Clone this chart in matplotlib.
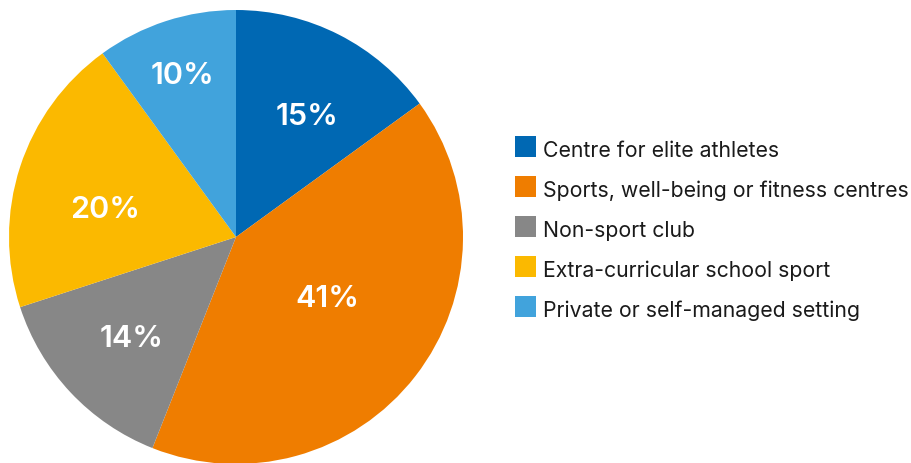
import numpy as np
import matplotlib.pyplot as plt
from matplotlib.patches import Rectangle

plt.rcParams['font.family'] = ['Inter', 'DejaVu Sans']

categories = [
    "Centre for elite athletes",
    "Sports, well-being or fitness centres",
    "Non-sport club",
    "Extra-curricular school sport",
    "Private or self-managed setting",
]
shares = [15, 41, 14, 20, 10]
colors = ["#0068b3", "#ef7d00", "#878787", "#fbb900", "#41a3dc"]
# radial position of each percentage label (fraction of radius)
label_radius = [0.63, 0.48, 0.633, 0.59, 0.76]
label_shift_deg = [-3, 5, 0.4, 5, 0]

W, H = 911, 463
fig = plt.figure(figsize=(W / 100, H / 100), dpi=100)

cx, cy, R = 236, 237, 227
ax = fig.add_axes([(cx - R) / W, (H - cy - R) / H, 2 * R / W, 2 * R / H])

wedges, _ = ax.pie(shares, colors=colors, startangle=90, counterclock=False,
                   radius=1, wedgeprops=dict(linewidth=0))
for w in wedges:
    w.set_clip_on(False)
ax.set_xlim(-1, 1)
ax.set_ylim(-1, 1)
ax.set_aspect('equal')
ax.axis('off')

total = sum(shares)
start = 90.0
for v, r, sh in zip(shares, label_radius, label_shift_deg):
    span = 360.0 * v / total
    mid = np.deg2rad(start - span / 2 + sh)
    # baseline sits half a cap-height below the anchor so digits look centred
    ax.annotate(f"{v}%", (r * np.cos(mid), r * np.sin(mid)),
                xytext=(0, -8.2), textcoords='offset points',
                ha='center', va='baseline',
                color='white', fontsize=22, fontweight='semibold')
    start -= span

# legend
sq = 21
for i, (lab, c) in enumerate(zip(categories, colors)):
    top = 136 + 40 * i
    fig.add_artist(Rectangle((515 / W, (H - top - sq) / H), sq / W, sq / H,
                             transform=fig.transFigure, facecolor=c,
                             edgecolor='none'))
    fig.text(543 / W, (H - (157 + 40 * i)) / H, lab, ha='left', va='baseline',
             fontsize=15.3, color='#1a1a1a')

fig.savefig('out.png', dpi=100)
